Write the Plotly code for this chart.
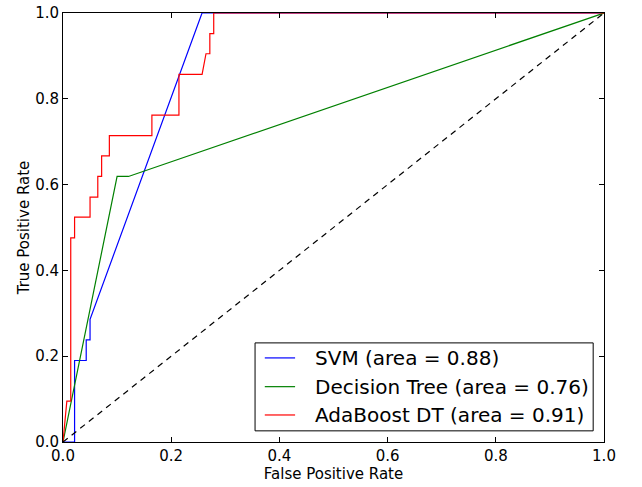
import plotly.graph_objects as go

# SVM ROC
svm_fpr = [0.0, 0.0214, 0.0214, 0.0429, 0.0429, 0.05, 0.05, 0.257, 1.0]
svm_tpr = [0.0, 0.0, 0.190, 0.190, 0.238, 0.238, 0.286, 1.0, 1.0]

# Decision tree ROC
dt_fpr = [0.0, 0.1, 0.121, 1.0]
dt_tpr = [0.0, 0.619, 0.619, 1.0]

# AdaBoost DT ROC
ada_fpr = [0.0, 0.0071, 0.0143, 0.0143, 0.0214, 0.0214, 0.05, 0.05, 0.0643, 0.0643,
           0.0714, 0.0714, 0.0857, 0.0857, 0.1643, 0.1643, 0.2143, 0.2143, 0.2571,
           0.2643, 0.2714, 0.2714, 0.2786, 0.2786, 1.0]
ada_tpr = [0.0, 0.0952, 0.0952, 0.476, 0.476, 0.524, 0.524, 0.571, 0.571, 0.619,
           0.619, 0.667, 0.667, 0.714, 0.714, 0.762, 0.762, 0.857, 0.857,
           0.905, 0.905, 0.952, 0.952, 1.0, 1.0]

chance = [0.0, 1.0]

labels = ["SVM (area = 0.88)", "Decision Tree (area = 0.76)", "AdaBoost DT (area = 0.91)"]
colors = ["#0000ff", "#008000", "#ff0000"]
tick_vals = [0.0, 0.2, 0.4, 0.6, 0.8, 1.0]
tick_text = ["0.0", "0.2", "0.4", "0.6", "0.8", "1.0"]

fig = go.Figure()
for xs, ys, name, col in zip([svm_fpr, dt_fpr, ada_fpr], [svm_tpr, dt_tpr, ada_tpr], labels, colors):
    fig.add_trace(go.Scatter(x=xs, y=ys, mode="lines", name=name, showlegend=False,
                             line=dict(color=col, width=1.2)))
fig.add_trace(go.Scatter(x=chance, y=chance, mode="lines", showlegend=False,
                         line=dict(color="black", width=1.2, dash="6px,5px")))

# Legend box (drawn in paper coordinates, lower right of the axes)
leg_x0, leg_x1, leg_y0, leg_y1 = 0.355, 0.980, 0.026, 0.231
line_x0, line_x1, text_x = 0.373, 0.429, 0.4625
row_y = [0.196, 0.129, 0.063]
shapes = [dict(type="rect", xref="paper", yref="paper", x0=leg_x0, x1=leg_x1,
               y0=leg_y0, y1=leg_y1, line=dict(color="black", width=1),
               fillcolor="white", layer="above")]
annotations = []
for name, col, ry in zip(labels, colors, row_y):
    shapes.append(dict(type="line", xref="paper", yref="paper", x0=line_x0, x1=line_x1,
                       y0=ry, y1=ry, line=dict(color=col, width=1.2), layer="above"))
    annotations.append(dict(xref="paper", yref="paper", x=text_x, y=ry, text=name,
                            showarrow=False, xanchor="left", yanchor="middle",
                            font=dict(size=20, family="DejaVu Sans", color="black")))

axis_common = dict(
    range=[0, 1], tickvals=tick_vals, ticktext=tick_text, automargin=False,
    showgrid=False, zeroline=False, showline=True, linecolor="black", linewidth=1,
    mirror="ticks", ticks="inside", ticklen=5, tickcolor="black", tickwidth=1,
    tickfont=dict(family="DejaVu Sans", size=15, color="black"),
)

fig.update_layout(
    width=642, height=487,
    margin=dict(l=63, r=38, t=13, b=45, autoexpand=False),
    paper_bgcolor="white", plot_bgcolor="white",
    font=dict(family="DejaVu Sans", color="black"),
    xaxis=dict(**axis_common, title=dict(text="False Positive Rate",
               font=dict(size=15), standoff=1)),
    yaxis=dict(**axis_common, title=dict(text="True Positive Rate",
               font=dict(size=15), standoff=1)),
    shapes=shapes, annotations=annotations,
    showlegend=False,
)

fig.write_html("out.html", config={"displayModeBar": False},
               post_script="document.body.style.margin='0';")
